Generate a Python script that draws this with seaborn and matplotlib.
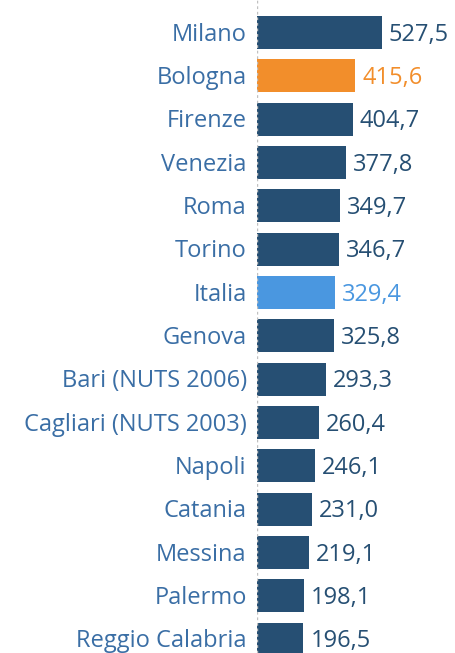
import matplotlib
matplotlib.use("Agg")
import matplotlib.pyplot as plt
import pandas as pd
import seaborn as sns

# dati
citta = ["Milano", "Bologna", "Firenze", "Venezia", "Roma", "Torino", "Italia",
         "Genova", "Bari (NUTS 2006)", "Cagliari (NUTS 2003)", "Napoli",
         "Catania", "Messina", "Palermo", "Reggio Calabria"]
valori = [527.5, 415.6, 404.7, 377.8, 349.7, 346.7, 329.4,
          325.8, 293.3, 260.4, 246.1, 231.0, 219.1, 198.1, 196.5]

BLU_SCURO = "#264f73"
ARANCIO = "#f28e2b"
AZZURRO = "#4a97e0"
TESTO = "#3a6ea5"

colori = {c: BLU_SCURO for c in citta}
colori["Bologna"] = ARANCIO
colori["Italia"] = AZZURRO

df = pd.DataFrame({"citta": citta, "valore": valori})

sns.set_style("white")
plt.rcParams['font.family'] = ['Open Sans', 'DejaVu Sans']

fig = plt.figure(figsize=(4.55, 6.53), dpi=100)
ax = fig.add_axes([0.565, 0.0, 0.435, 1.0])

sns.barplot(data=df, y="citta", x="valore", hue="citta", palette=colori,
            order=citta, hue_order=citta, orient="h", width=0.76,
            legend=False, saturation=1, linewidth=0, ax=ax)

ax.set_xlim(0, 839)
ax.set_ylim(14.32, -0.75)
ax.axvline(0, color="#c0c0c0", linestyle=(0, (2, 2)), linewidth=1)

for i, (c, v) in enumerate(zip(citta, valori)):
    col = colori[c]
    ax.annotate(f"{v:.1f}".replace(".", ","), xy=(v, i), xytext=(5, -1.5),
                textcoords="offset points", ha="left", va="center",
                fontsize=17, color=col)
    ax.annotate(c, xy=(0, i), xytext=(-7.5, -1.5), textcoords="offset points",
                ha="right", va="center", fontsize=17, color=TESTO,
                annotation_clip=False)

ax.set_xlabel("")
ax.set_ylabel("")
ax.set_xticks([])
ax.set_yticks([])
for s in ax.spines.values():
    s.set_visible(False)

fig.savefig("out.png", dpi=100)
